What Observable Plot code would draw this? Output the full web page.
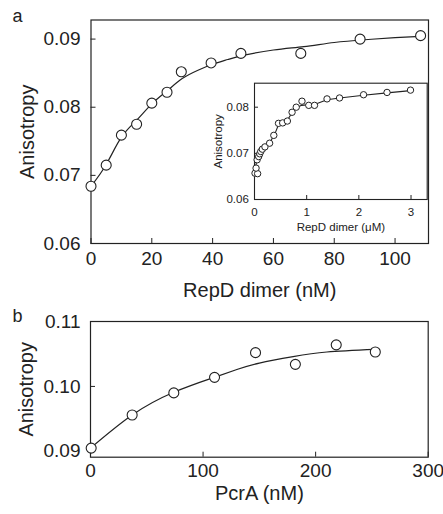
<!DOCTYPE html>
<html><head><meta charset="utf-8">
<script src="https://cdn.jsdelivr.net/npm/d3@7"></script>
<script src="https://cdn.jsdelivr.net/npm/@observablehq/plot@0.6"></script>
<style>
body{margin:0;background:#fff;}
#wrap{position:relative;width:443px;height:514px;overflow:hidden;background:#fff;}
#wrap svg{position:absolute;overflow:visible;}
</style></head><body><div id="wrap"></div>
<script>
// Panel a: main binding curve (RepD dimer, nM)
const repdNM = [0, 5, 10, 15, 20, 25, 29.7, 39.5, 49.3, 69, 88.5, 108.4];
const anisoA = [0.0684, 0.0715, 0.0759, 0.0775, 0.0806, 0.0822, 0.0852, 0.0865, 0.0879, 0.0879, 0.0900, 0.0905];
const fitAx = [0, 5, 10, 15, 20, 25, 30, 35, 40, 45, 50, 60, 70, 80, 90, 100, 108.4];
const fitAy = [0.0684, 0.0716, 0.0756, 0.0781, 0.0805, 0.0824, 0.0842, 0.0854, 0.0863, 0.0870, 0.0876, 0.0884, 0.0889, 0.0895, 0.0899, 0.0902, 0.0904];
const xTicksA = [0, 20, 40, 60, 80, 100];
const yTicksA = [0.06, 0.07, 0.08, 0.09];

// Panel a inset (RepD dimer, µM)
const repdUM = [0.01, 0.06, 0.03, 0.05, 0.08, 0.10, 0.12, 0.15, 0.20, 0.29, 0.37, 0.46, 0.54, 0.63, 0.72, 0.80, 0.91, 1.04, 1.15, 1.39, 1.63, 2.09, 2.54, 2.99];
const anisoInset = [0.0657, 0.0656, 0.0668, 0.0686, 0.0693, 0.0699, 0.0704, 0.0709, 0.0714, 0.0722, 0.0739, 0.0765, 0.0766, 0.0770, 0.0789, 0.0800, 0.0813, 0.0804, 0.0804, 0.0818, 0.0820, 0.0827, 0.0832, 0.0837];
const fitIx = [0, 0.05, 0.1, 0.2, 0.3, 0.4, 0.46, 0.55, 0.63, 0.72, 0.8, 0.9, 1.0, 1.15, 1.39, 1.63, 2.09, 2.54, 2.99];
const fitIy = [0.0655, 0.0690, 0.0700, 0.0712, 0.0724, 0.0745, 0.0762, 0.0767, 0.0772, 0.0788, 0.0798, 0.0804, 0.0805, 0.0806, 0.0816, 0.0820, 0.0826, 0.0831, 0.0836];
const xTicksI = [0, 1, 2, 3];
const yTicksI = [0.06, 0.07, 0.08];

// Panel b (PcrA, nM)
const pcraNM = [0.6, 37, 74, 110.2, 146.6, 182, 218.3, 253];
const anisoB = [0.0905, 0.0956, 0.0990, 0.1014, 0.1052, 0.1034, 0.1064, 0.1053];
const fitBx = [0, 37, 74, 110, 130, 150, 180, 210, 253];
const fitBy = [0.0905, 0.0956, 0.0991, 0.1014, 0.1026, 0.1036, 0.1046, 0.1053, 0.1057];
const xTicksB = [0, 100, 200, 300];
const yTicksB = [0.09, 0.10, 0.11];

const FONT = "'Liberation Sans', Arial, Helvetica, sans-serif";
const INK = "#222";
const zip = (xs, ys) => xs.map((x, i) => ({x, y: ys[i]}));
const fmt2 = d3.format(".2f");
const fmtInt = d3.format("d");

const wrap = document.getElementById("wrap");
function place(svg, left, top) {
  svg.style.left = left + "px";
  svg.style.top = top + "px";
  wrap.appendChild(svg);
}

// ---- Panel a main
const a = Plot.plot({
  width: 443, height: 300,
  marginLeft: 90.5, marginRight: 15, marginTop: 19.5, marginBottom: 57,
  style: {fontFamily: FONT, fontSize: "19px", color: INK, background: "transparent", overflow: "visible"},
  x: {domain: [0, 111]},
  y: {domain: [0.06, 0.0928]},
  marks: [
    Plot.frame({stroke: INK, strokeWidth: 1.2}),
    Plot.axisX({ticks: xTicksA, tickFormat: fmtInt, tickSize: -5, tickPadding: 13, label: null, fontSize: 19}),
    Plot.axisY({ticks: yTicksA, tickFormat: fmt2, tickSize: -5, tickPadding: 15.5, label: null, fontSize: 19}),
    Plot.text(["RepD dimer (nM)"], {frameAnchor: "bottom", dy: 47, lineAnchor: "middle", textAnchor: "middle", fontSize: 20, fill: INK}),
    Plot.text(["Anisotropy"], {frameAnchor: "left", dx: -63.5, rotate: -90, lineAnchor: "middle", textAnchor: "middle", fontSize: 20, fill: INK}),
    Plot.text(["a"], {frameAnchor: "top-left", dx: -73.5, dy: -3.6, lineAnchor: "middle", textAnchor: "middle", fontSize: 18, fill: INK}),
    Plot.line(zip(fitAx, fitAy), {x: "x", y: "y", curve: "natural", stroke: INK, strokeWidth: 1.2}),
    Plot.dot(zip(repdNM, anisoA), {x: "x", y: "y", r: 5, fill: "white", stroke: INK, strokeWidth: 1.1})
  ]
});
place(a, 0, 0);

// ---- Panel a inset
const inset = Plot.plot({
  width: 235, height: 170,
  marginLeft: 54, marginRight: 8.3, marginTop: 12.7, marginBottom: 41,
  style: {fontFamily: FONT, fontSize: "11.5px", color: INK, background: "transparent", overflow: "visible"},
  x: {domain: [0, 3.31]},
  y: {domain: [0.06, 0.0852]},
  marks: [
    Plot.frame({stroke: INK, strokeWidth: 1.1}),
    Plot.axisX({ticks: xTicksI, tickFormat: fmtInt, tickSize: -4, tickPadding: 12.6, label: null, fontSize: 11.5}),
    Plot.axisY({ticks: yTicksI, tickFormat: fmt2, tickSize: -4, tickPadding: 9.7, label: null, fontSize: 11.5}),
    Plot.text(["RepD dimer (\u03bcM)"], {frameAnchor: "bottom", dy: 27.7, lineAnchor: "middle", textAnchor: "middle", fontSize: 11.5, fill: INK}),
    Plot.text(["Anisotropy"], {frameAnchor: "left", dx: -36, rotate: -90, lineAnchor: "middle", textAnchor: "middle", fontSize: 11.5, fill: INK}),
    Plot.line(zip(fitIx, fitIy), {x: "x", y: "y", stroke: INK, strokeWidth: 1.1}),
    Plot.dot(zip(repdUM, anisoInset), {x: "x", y: "y", r: 3.2, fill: "white", stroke: INK, strokeWidth: 1})
  ]
});
place(inset, 200, 70);

// ---- Panel b
const b = Plot.plot({
  width: 443, height: 214,
  marginLeft: 90, marginRight: 15.3, marginTop: 21, marginBottom: 57.3,
  style: {fontFamily: FONT, fontSize: "19px", color: INK, background: "transparent", overflow: "visible"},
  x: {domain: [0, 300]},
  y: {domain: [0.0891, 0.11]},
  marks: [
    Plot.frame({stroke: INK, strokeWidth: 1.2}),
    Plot.axisX({ticks: xTicksB, tickFormat: fmtInt, tickSize: -5, tickPadding: 11.6, label: null, fontSize: 19}),
    Plot.axisY({ticks: yTicksB, tickFormat: fmt2, tickSize: -5, tickPadding: 15, label: null, fontSize: 19}),
    Plot.text(["PcrA (nM)"], {frameAnchor: "bottom", dy: 36.6, lineAnchor: "middle", textAnchor: "middle", fontSize: 20, fill: INK}),
    Plot.text(["Anisotropy"], {frameAnchor: "left", dx: -63.5, rotate: -90, lineAnchor: "middle", textAnchor: "middle", fontSize: 20, fill: INK}),
    Plot.text(["b"], {frameAnchor: "top-left", dx: -73, dy: -5.3, lineAnchor: "middle", textAnchor: "middle", fontSize: 18, fill: INK}),
    Plot.line(zip(fitBx, fitBy), {x: "x", y: "y", curve: "natural", stroke: INK, strokeWidth: 1.2}),
    Plot.dot(zip(pcraNM, anisoB), {x: "x", y: "y", r: 5, fill: "white", stroke: INK, strokeWidth: 1.1})
  ]
});
place(b, 0, 300);
</script>
</body></html>
